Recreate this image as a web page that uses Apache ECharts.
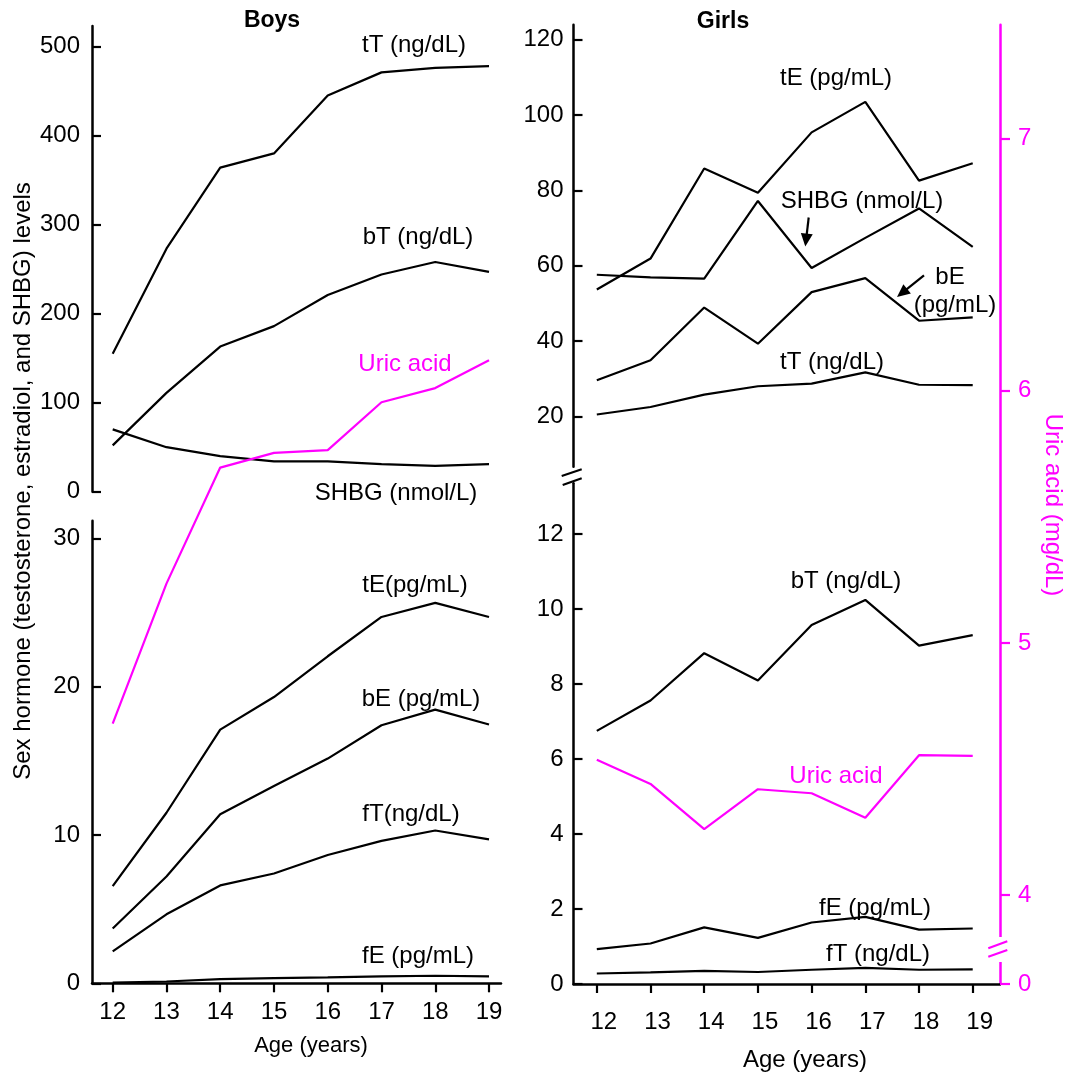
<!DOCTYPE html>
<html><head><meta charset="utf-8">
<script src="https://cdn.jsdelivr.net/npm/echarts@6/dist/echarts.min.js"></script>
<style>html,body{margin:0;padding:0;background:#fff}#c{width:1073px;height:1075px}</style>
</head><body><div id="c"></div>
<script>
// ---------- data ----------
const ages = [12, 13, 14, 15, 16, 17, 18, 19];
// Boys, upper panel
const boysTT   = [155, 273, 364, 380, 445, 471, 476, 478];
const boysBT   = [52, 111, 163, 186, 221, 244, 258, 247];
const boysSHBG = [70, 50, 40, 34, 34, 31, 29, 31];
// Boys, lower panel
const boysTE = [6.55, 11.5, 17.1, 19.3, 22.05, 24.7, 25.65, 24.7];
const boysBE = [3.7, 7.2, 11.4, 13.3, 15.15, 17.4, 18.45, 17.45];
const boysFT = [2.15, 4.65, 6.6, 7.4, 8.65, 9.6, 10.3, 9.7];
const boysFE = [0.05, 0.12, 0.28, 0.35, 0.4, 0.47, 0.51, 0.47];
const boysUric = [4.68, 5.235, 5.695, 5.753, 5.764, 5.954, 6.01, 6.12];
// Girls, upper panel
const girlsTE   = [53.7, 61.9, 85.8, 79.4, 95.4, 103.5, 82.6, 87.2];
const girlsSHBG = [57.6, 56.9, 56.6, 77.2, 59.4, 67.4, 75.2, 65.0];
const girlsBE   = [29.6, 34.9, 48.9, 39.3, 53.0, 56.7, 45.4, 46.3];
const girlsTT   = [20.5, 22.5, 25.8, 28.0, 28.7, 31.7, 28.4, 28.3];
// Girls, lower panel
const girlsBT = [6.75, 7.56, 8.82, 8.09, 9.57, 10.24, 9.02, 9.30];
const girlsFE = [0.93, 1.08, 1.51, 1.23, 1.64, 1.79, 1.45, 1.48];
const girlsFT = [0.28, 0.31, 0.35, 0.32, 0.38, 0.43, 0.38, 0.39];
const girlsUric = [4.537, 4.441, 4.262, 4.420, 4.404, 4.307, 4.555, 4.552];
// tick labels
const xTicks = [12, 13, 14, 15, 16, 17, 18, 19];
const boysUpperTicks = [0, 100, 200, 300, 400, 500];
const boysLowerTicks = [0, 10, 20, 30];
const girlsUpperTicks = [20, 40, 60, 80, 100, 120];
const girlsLowerTicks = [0, 2, 4, 6, 8, 10, 12];
const uricTicks = [3.648, 4, 5, 6, 7];   // first tick is shown as "0" below the axis break

// ---------- layout ----------
const FONT = '"Liberation Sans", Arial, Helvetica, sans-serif';
const BLACK = '#000';
const MAG = '#ff00ff';
const chart = echarts.init(document.getElementById('c'), null, {renderer: 'canvas'});

const BX = {left: 92, width: 409, min: 11.615, max: 19.223};
const GX = {left: 573.5, width: 426.5, min: 11.566, max: 19.508};
const grids = [
  {left: BX.left, width: BX.width, top: 25.9, height: 465.8},   // 0 boys upper
  {left: BX.left, width: BX.width, top: 520.7, height: 462.6},  // 1 boys lower
  {left: BX.left, width: BX.width, top: 24.8, height: 959.2},   // 2 boys uric overlay
  {left: GX.left, width: GX.width, top: 24.8, height: 441.9},   // 3 girls upper
  {left: GX.left, width: GX.width, top: 483.3, height: 500.7},  // 4 girls lower
  {left: GX.left, width: GX.width, top: 24.8, height: 959.2}    // 5 girls uric overlay
];

function hiddenX(gi, ext) {
  return {type: 'value', gridIndex: gi, min: ext.min, max: ext.max, show: false, splitLine: {show: false}};
}
function visibleX(gi, ext, margin, padLeft) {
  return {
    type: 'value', gridIndex: gi, min: ext.min, max: ext.max,
    axisLine: {show: true, onZero: false, lineStyle: {color: BLACK, width: 2.5}},
    axisTick: {show: true, inside: false, length: 9, lineStyle: {color: BLACK, width: 2.2}, customValues: xTicks},
    axisLabel: {show: true, color: BLACK, fontSize: 24, fontFamily: FONT, margin: margin,
      padding: [0, 0, 0, padLeft], customValues: xTicks},
    splitLine: {show: false}
  };
}
function leftY(gi, min, max, ticks, margin) {
  return {
    type: 'value', gridIndex: gi, min: min, max: max, position: 'left',
    axisLine: {show: true, onZero: false, lineStyle: {color: BLACK, width: 2.5}},
    axisTick: {show: true, inside: true, length: 9, lineStyle: {color: BLACK, width: 2.2}, customValues: ticks},
    axisLabel: {show: true, color: BLACK, fontSize: 24, fontFamily: FONT, margin: margin, customValues: ticks},
    splitLine: {show: false}
  };
}
const uricMin = 3.648, uricMax = 7.45;

const xAxes = [
  hiddenX(0, BX), visibleX(1, BX, 17, 0), hiddenX(2, BX),
  hiddenX(3, GX), visibleX(4, GX, 26, 14), hiddenX(5, GX)
];
const yAxes = [
  leftY(0, 0, 523.2, boysUpperTicks, 12),
  leftY(1, 0, 31.19, boysLowerTicks, 12),
  {type: 'value', gridIndex: 2, min: uricMin, max: uricMax, show: false, splitLine: {show: false}},
  leftY(3, 6.65, 123.96, girlsUpperTicks, 10),
  leftY(4, 0, 13.35, girlsLowerTicks, 10),
  {
    type: 'value', gridIndex: 5, min: uricMin, max: uricMax, position: 'right',
    axisLine: {show: true, onZero: false, lineStyle: {color: MAG, width: 2.5}},
    axisTick: {show: true, inside: false, length: 10, lineStyle: {color: MAG, width: 2.2}, customValues: uricTicks},
    axisLabel: {show: true, color: MAG, fontSize: 24, fontFamily: FONT, margin: 18, customValues: uricTicks,
      formatter: v => (v < 3.9 ? '0' : String(Math.round(v)))},
    splitLine: {show: false}
  }
];

function line(values, axisIdx, color) {
  return {
    type: 'line', xAxisIndex: axisIdx, yAxisIndex: axisIdx,
    data: ages.map((a, i) => [a, values[i]]),
    symbol: 'none', smooth: false, silent: true,
    lineStyle: {color: color, width: 2.2}, itemStyle: {color: color}
  };
}
const series = [
  line(boysTT, 0, BLACK), line(boysBT, 0, BLACK), line(boysSHBG, 0, BLACK),
  line(boysTE, 1, BLACK), line(boysBE, 1, BLACK), line(boysFT, 1, BLACK), line(boysFE, 1, BLACK),
  line(boysUric, 2, MAG),
  line(girlsTE, 3, BLACK), line(girlsSHBG, 3, BLACK), line(girlsBE, 3, BLACK), line(girlsTT, 3, BLACK),
  line(girlsBT, 4, BLACK), line(girlsFE, 4, BLACK), line(girlsFT, 4, BLACK),
  line(girlsUric, 5, MAG)
];

// ---------- annotations (text, arrows, axis breaks) ----------
function txt(text, x, y, opts) {
  opts = opts || {};
  const size = opts.size || 24;
  return {
    type: 'text', x: x, y: y, rotation: opts.rot || 0, z: 100, silent: true,
    style: {
      text: text, fill: opts.color || BLACK,
      font: (opts.bold ? 'bold ' : '') + size + 'px ' + FONT,
      align: 'center', verticalAlign: 'middle', textAlign: 'center', textVerticalAlign: 'middle'
    }
  };
}
function arrow(x1, y1, x2, y2) {
  const dx = x2 - x1, dy = y2 - y1, L = Math.hypot(dx, dy);
  const ux = dx / L, uy = dy / L, nx = -uy, ny = ux;
  const hl = 13, hw = 6;
  const bx = x2 - ux * hl, by = y2 - uy * hl;
  return [
    {type: 'line', z: 100, silent: true, shape: {x1: x1, y1: y1, x2: bx + ux * 2, y2: by + uy * 2},
      style: {stroke: BLACK, lineWidth: 2.2}},
    {type: 'polygon', z: 100, silent: true,
      shape: {points: [[x2, y2], [bx + nx * hw, by + ny * hw], [bx - nx * hw, by - ny * hw]]},
      style: {fill: BLACK}}
  ];
}
function slash(x1, y1, x2, y2, color) {
  return {type: 'line', z: 100, silent: true, shape: {x1: x1, y1: y1, x2: x2, y2: y2},
    style: {stroke: color, lineWidth: 2.2}};
}

const graphics = [
  txt('Boys', 272, 21, {bold: true, size: 23}),
  txt('Girls', 723, 21.5, {bold: true, size: 23}),
  txt('Sex hormone (testosterone, estradiol, and SHBG) levels', 23, 481, {rot: Math.PI / 2}),
  txt('Uric acid (mg/dL)', 1053, 505, {rot: -Math.PI / 2, color: MAG}),
  txt('Age (years)', 311, 1046, {size: 22}),
  txt('Age (years)', 805, 1060, {size: 24}),
  // boys labels
  txt('tT (ng/dL)', 414, 45),
  txt('bT (ng/dL)', 418, 237),
  txt('Uric acid', 405, 364, {color: MAG}),
  txt('SHBG (nmol/L)', 396, 493),
  txt('tE(pg/mL)', 415, 585.5),
  txt('bE (pg/mL)', 421, 699),
  txt('fT(ng/dL)', 411, 814),
  txt('fE (pg/mL)', 418, 956),
  // girls labels
  txt('tE (pg/mL)', 836, 78),
  txt('SHBG (nmol/L)', 862, 201),
  txt('bE', 950, 277),
  txt('(pg/mL)', 955, 305),
  txt('tT (ng/dL)', 832, 362),
  txt('bT (ng/dL)', 846, 581.5),
  txt('Uric acid', 836, 776, {color: MAG}),
  txt('fE (pg/mL)', 875, 908),
  txt('fT (ng/dL)', 878, 954),
  ...arrow(808.7, 217.5, 805.3, 246.5),
  ...arrow(924, 275.3, 897, 297.1),
  // girls left axis break
  slash(561.7, 476, 581.7, 469.3, BLACK),
  slash(562.7, 485, 581.7, 478.3, BLACK),
  // right axis break
  {type: 'rect', z: 99, silent: true, shape: {x: 994, y: 937, width: 12, height: 25}, style: {fill: '#fff'}},
  slash(988.3, 948.3, 1007.3, 941.3, MAG),
  slash(988.3, 956.7, 1007.3, 950, MAG)
];

chart.setOption({
  animation: false,
  backgroundColor: '#fff',
  textStyle: {fontFamily: FONT},
  grid: grids,
  xAxis: xAxes,
  yAxis: yAxes,
  series: series,
  graphic: graphics
});
</script>
</body></html>
